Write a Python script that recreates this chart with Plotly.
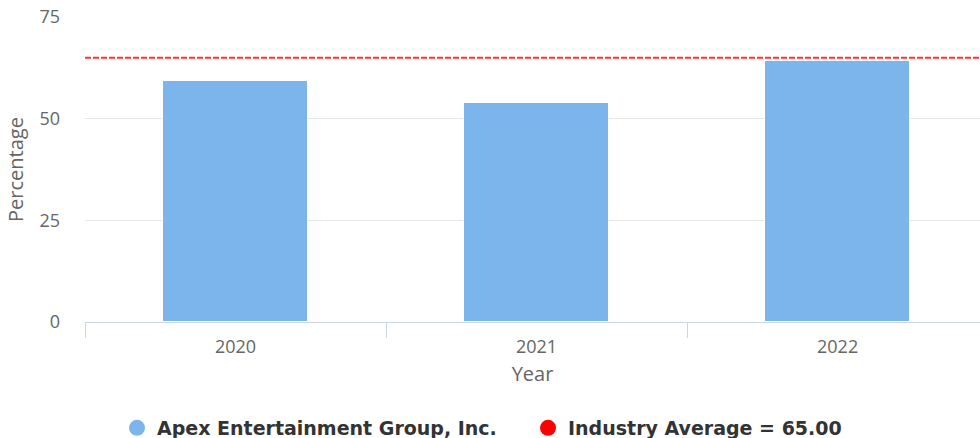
import plotly.graph_objects as go

years = ["2020", "2021", "2022"]
company_values = [59.3, 53.8, 64.2]
industry_average = 65.00
company_name = "Apex Entertainment Group, Inc."
y_ticks = [0, 25, 50, 75]

FONT = "Open Sans"
LEG_FONT = "DejaVu Sans"

fig = go.Figure()
fig.add_trace(go.Bar(
    x=years, y=company_values, width=0.48,
    marker=dict(color="#7cb5ec", line=dict(color="#ffffff", width=1)),
    showlegend=False, hoverinfo="x+y",
))
# legend-only entries with circle markers
fig.add_trace(go.Scatter(
    x=[None], y=[None], mode="markers", name=company_name,
    marker=dict(color="#7cb5ec", size=20, symbol="circle"),
))
fig.add_trace(go.Scatter(
    x=[None], y=[None], mode="markers",
    name=f"Industry Average = {industry_average:.2f}",
    marker=dict(color="#ff0000", size=20, symbol="circle"),
))
fig.add_shape(type="line", xref="paper", x0=0, x1=1, yref="y",
              y0=industry_average, y1=industry_average,
              line=dict(color="#ff3333", width=2, dash="6px,2px"))

fig.update_layout(
    width=980, height=438,
    margin=dict(l=85, r=0, t=17, b=116, autoexpand=False),
    plot_bgcolor="#ffffff", paper_bgcolor="#ffffff",
    bargap=0,
    font=dict(family=FONT, size=18, color="#666666"),
    showlegend=True,
    legend=dict(orientation="h", xref="container", x=0.5388, xanchor="center",
                yref="paper", y=-0.3475, yanchor="middle",
                font=dict(family=LEG_FONT, size=19, color="#333333", weight="bold"),
                itemwidth=30, tracegroupgap=0,
                entrywidth=366, entrywidthmode="pixels"),
    xaxis=dict(
        type="category", range=[-0.5, 2.473], automargin=False,
        showline=True, linecolor="#ccd6eb", linewidth=1,
        ticks="outside", tickson="boundaries", ticklen=15, tickcolor="#ccd6eb",
        showgrid=False, ticklabelstandoff=8,
        tickfont=dict(family=FONT, size=18, color="#666666"),
        title=dict(text="Year", font=dict(family=FONT, size=20, color="#666666"), standoff=10),
    ),
    yaxis=dict(
        range=[0, 75], tickvals=y_ticks, automargin=False,
        showgrid=True, gridcolor="#e6e6e6", gridwidth=1,
        zeroline=False, showline=False,
        ticks="", ticklabelstandoff=24,
        tickfont=dict(family=FONT, size=18, color="#666666"),
        title=dict(text="Percentage", font=dict(family=FONT, size=20, color="#666666"), standoff=10),
    ),
)

fig.write_html("out.html")
